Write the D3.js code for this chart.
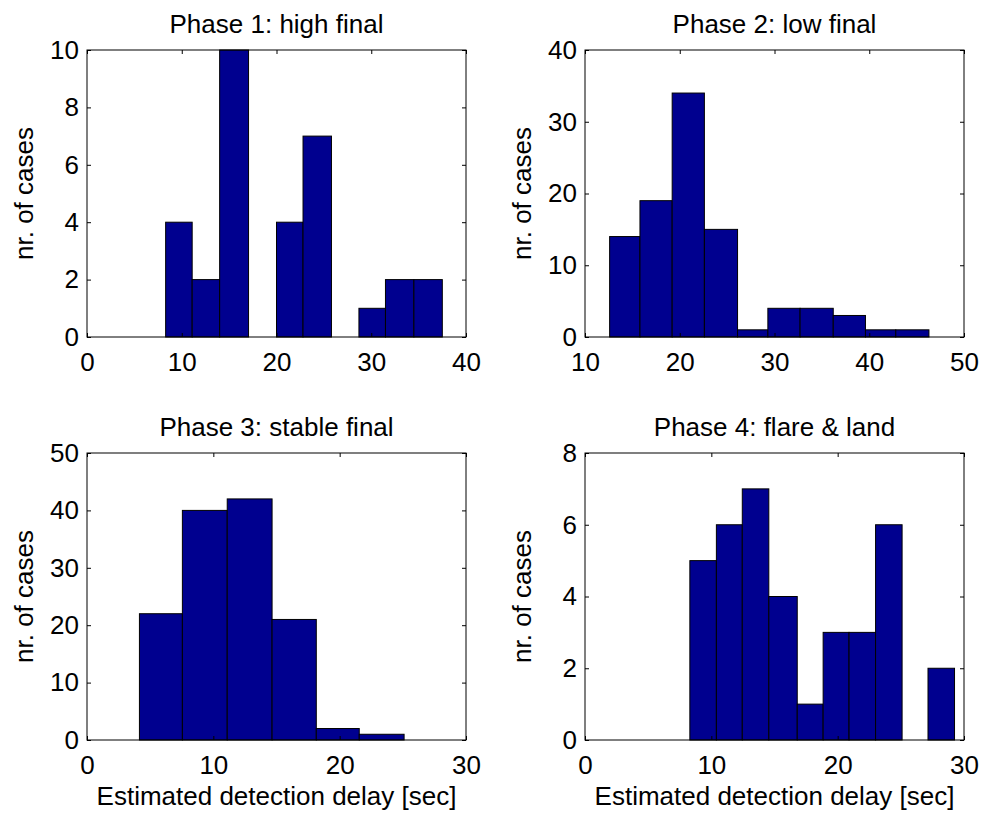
<!DOCTYPE html>
<html>
<head>
<meta charset="utf-8">
<script src="https://cdnjs.cloudflare.com/ajax/libs/d3/7.8.5/d3.min.js"></script>
<style>
  body { margin: 0; background: #fff; }
  text { font-family: Arial, "Liberation Sans", Helvetica, sans-serif; fill: #000; }
</style>
</head>
<body>
<div id="svg_area"></div>
<script>
// histogram data: bin edges + counts per phase
var titles = ["Phase 1: high final", "Phase 2: low final", "Phase 3: stable final", "Phase 4: flare & land"];

var phase1Edges = [8.3, 11.1, 14.0, 17.05, 20.0, 22.8, 25.8, 28.7, 31.5, 34.5, 37.5];
var phase1Counts = [4, 2, 10, 0, 4, 7, 0, 1, 2, 2];

var phase2Edges = [12.6, 15.8, 19.2, 22.6, 26.1, 29.3, 32.7, 36.2, 39.6, 42.8, 46.3];
var phase2Counts = [14, 19, 34, 15, 1, 4, 4, 3, 1, 1];

var phase3Edges = [4.15, 7.55, 11.1, 14.65, 18.15, 21.55, 25.1];
var phase3Counts = [22, 40, 42, 21, 2, 1];

var phase4Edges = [8.3, 10.4, 12.45, 14.55, 16.8, 18.85, 20.9, 23.0, 25.1, 27.15, 29.25];
var phase4Counts = [5, 6, 7, 4, 1, 3, 3, 6, 0, 2];

// axis limits and tick labels
var xTicks1 = [0, 10, 20, 30, 40];
var xTicks2 = [10, 20, 30, 40, 50];
var xTicks3 = [0, 10, 20, 30];
var xTicks4 = [0, 10, 20, 30];
var yTicks1 = [0, 2, 4, 6, 8, 10];
var yTicks2 = [0, 10, 20, 30, 40];
var yTicks3 = [0, 10, 20, 30, 40, 50];
var yTicks4 = [0, 2, 4, 6, 8];

var yLabel = "nr. of cases";
var xLabel = "Estimated detection delay [sec]";

var panels = [
  {title: titles[0], edges: phase1Edges, counts: phase1Counts, xt: xTicks1, yt: yTicks1, left: 87, top: 50, xlab: false},
  {title: titles[1], edges: phase2Edges, counts: phase2Counts, xt: xTicks2, yt: yTicks2, left: 585, top: 50, xlab: false},
  {title: titles[2], edges: phase3Edges, counts: phase3Counts, xt: xTicks3, yt: yTicks3, left: 87, top: 453, xlab: true},
  {title: titles[3], edges: phase4Edges, counts: phase4Counts, xt: xTicks4, yt: yTicks4, left: 585, top: 453, xlab: true}
];

var svg = d3.select('#svg_area').append("svg").attr("width", 989).attr("height", 815);
var w = 379, h = 287, tickLen = 4, fs = 26;

panels.forEach(function(p) {
  var g = svg.append("g").attr("transform", "translate(" + p.left + "," + p.top + ")");

  var x = d3.scaleLinear().domain(d3.extent(p.xt)).range([0, w]);
  var y = d3.scaleLinear().domain(d3.extent(p.yt)).range([h, 0]);

  var bins = p.counts.map(function(c, i) {
    return {x0: p.edges[i], x1: p.edges[i + 1], n: c};
  }).filter(function(d) { return d.n > 0; });

  g.selectAll("rect.bar")
    .data(bins)
    .enter()
    .append("rect")
    .attr("class", "bar")
    .attr("x", function(d) { return x(d.x0); })
    .attr("y", function(d) { return y(d.n); })
    .attr("width", function(d) { return x(d.x1) - x(d.x0); })
    .attr("height", function(d) { return h - y(d.n); })
    .attr("fill", "#00008f")
    .attr("stroke", "#000")
    .attr("stroke-width", 1);

  // inward ticks on all four sides (box on)
  g.append("g").attr("transform", "translate(0," + h + ")")
    .call(d3.axisBottom(x).tickValues(p.xt).tickSize(-tickLen).tickPadding(9).tickSizeOuter(0))
    .call(function(a) { a.select(".domain").remove(); a.selectAll("text").attr("font-size", fs).attr("dy", "0.95em"); });
  g.append("g")
    .call(d3.axisTop(x).tickValues(p.xt).tickSize(-tickLen).tickFormat("").tickSizeOuter(0))
    .call(function(a) { a.select(".domain").remove(); });
  g.append("g")
    .call(d3.axisLeft(y).tickValues(p.yt).tickSize(-tickLen).tickPadding(8).tickSizeOuter(0))
    .call(function(a) { a.select(".domain").remove(); a.selectAll("text").attr("font-size", fs); });
  g.append("g").attr("transform", "translate(" + w + ",0)")
    .call(d3.axisRight(y).tickValues(p.yt).tickSize(-tickLen).tickFormat("").tickSizeOuter(0))
    .call(function(a) { a.select(".domain").remove(); });

  g.selectAll(".tick line").attr("stroke", "#000");
  g.selectAll(".tick text").attr("fill", "#000").attr("font-family", "Arial, 'Liberation Sans', sans-serif");

  g.append("rect")
    .attr("width", w).attr("height", h)
    .attr("fill", "none").attr("stroke", "#000").attr("stroke-width", 1);

  g.append("text")
    .attr("x", w / 2).attr("y", -17)
    .attr("text-anchor", "middle")
    .attr("font-size", fs)
    .text(p.title);

  g.append("text")
    .attr("transform", "translate(-54," + (h / 2) + ") rotate(-90)")
    .attr("text-anchor", "middle")
    .attr("font-size", fs)
    .text(yLabel);

  if (p.xlab) {
    g.append("text")
      .attr("x", w / 2).attr("y", h + 65)
      .attr("text-anchor", "middle")
      .attr("font-size", fs)
      .text(xLabel);
  }
});
</script>
</body>
</html>
